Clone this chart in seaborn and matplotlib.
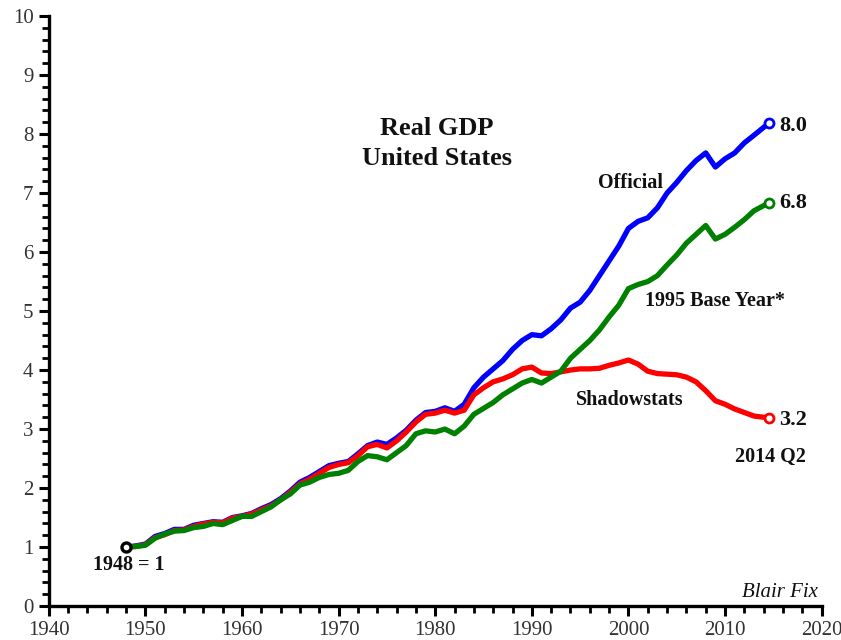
import matplotlib
matplotlib.use("Agg")
import matplotlib.pyplot as plt
import seaborn as sns
import pandas as pd
from matplotlib.ticker import MultipleLocator

years = [1948, 1949, 1950, 1951, 1952, 1953, 1954, 1955, 1956, 1957, 1958, 1959,
         1960, 1961, 1962, 1963, 1964, 1965, 1966, 1967, 1968, 1969, 1970, 1971,
         1972, 1973, 1974, 1975, 1976, 1977, 1978, 1979, 1980, 1981, 1982, 1983,
         1984, 1985, 1986, 1987, 1988, 1989, 1990, 1991, 1992, 1993, 1994, 1995,
         1996, 1997, 1998, 1999, 2000, 2001, 2002, 2003, 2004, 2005, 2006, 2007,
         2008, 2009, 2010, 2011, 2012, 2013, 2014.5]

official = [1.00, 1.02, 1.05, 1.18, 1.23, 1.30, 1.30, 1.37, 1.40, 1.43, 1.42, 1.50,
            1.53, 1.57, 1.65, 1.72, 1.82, 1.95, 2.10, 2.18, 2.28, 2.38, 2.42, 2.45,
            2.58, 2.72, 2.78, 2.74, 2.85, 2.98, 3.15, 3.28, 3.30, 3.36, 3.30, 3.42,
            3.70, 3.88, 4.02, 4.16, 4.35, 4.50, 4.60, 4.58, 4.70, 4.85, 5.05, 5.15,
            5.35, 5.60, 5.85, 6.10, 6.40, 6.52, 6.58, 6.75, 7.00, 7.18, 7.38, 7.55,
            7.68, 7.44, 7.58, 7.68, 7.85, 7.98, 8.18]

shadowstats = [1.00, 1.01, 1.04, 1.16, 1.21, 1.28, 1.29, 1.35, 1.39, 1.42, 1.41, 1.49,
               1.52, 1.56, 1.63, 1.70, 1.80, 1.93, 2.07, 2.15, 2.25, 2.35, 2.40, 2.43,
               2.55, 2.70, 2.74, 2.68, 2.80, 2.95, 3.12, 3.25, 3.27, 3.32, 3.27, 3.32,
               3.58, 3.70, 3.80, 3.85, 3.92, 4.02, 4.05, 3.95, 3.94, 3.97, 4.00, 4.02,
               4.02, 4.03, 4.08, 4.12, 4.17, 4.10, 3.98, 3.94, 3.93, 3.92, 3.88, 3.80,
               3.65, 3.48, 3.42, 3.34, 3.28, 3.22, 3.19]

base1995 = [1.00, 1.01, 1.03, 1.15, 1.22, 1.27, 1.28, 1.33, 1.35, 1.40, 1.38, 1.45,
            1.52, 1.52, 1.60, 1.68, 1.80, 1.90, 2.05, 2.10, 2.18, 2.23, 2.25, 2.30,
            2.45, 2.55, 2.53, 2.48, 2.60, 2.72, 2.92, 2.97, 2.95, 3.00, 2.92, 3.05,
            3.25, 3.35, 3.45, 3.58, 3.68, 3.78, 3.84, 3.78, 3.88, 3.98, 4.20, 4.35,
            4.50, 4.68, 4.90, 5.10, 5.38, 5.45, 5.50, 5.60, 5.78, 5.95, 6.15, 6.30,
            6.45, 6.22, 6.30, 6.42, 6.55, 6.70, 6.83]

series_names = ["Official", "Shadowstats", "1995 Base Year*"]
series_colors = ["#0000ff", "#ff0000", "#008000"]
end_labels = ["8.0", "3.2", "6.8"]

df = pd.DataFrame({
    "year": years * 3,
    "value": official + shadowstats + base1995,
    "series": [series_names[0]] * len(years) + [series_names[1]] * len(years)
              + [series_names[2]] * len(years),
})

sns.set_theme(style="ticks")
plt.rcParams["font.family"] = ["Liberation Serif", "DejaVu Serif"]

fig = plt.figure(figsize=(8.41, 6.4), dpi=100)
ax = fig.add_axes([0.058, 0.053, 0.919, 0.922])

order = ["Official", "Shadowstats", "1995 Base Year*"]
palette = dict(zip(series_names, series_colors))
sns.lineplot(data=df, x="year", y="value", hue="series", hue_order=order,
             palette=palette, linewidth=3.8, legend=False, ax=ax,
             solid_capstyle="round", solid_joinstyle="round")

# end markers
for name, col in zip(series_names, series_colors):
    sub = df[df.series == name]
    ax.plot(sub.year.iloc[-1], sub.value.iloc[-1], marker="o", ms=6.5,
            mfc="white", mec=col, mew=2.0, zorder=5)
ax.plot(years[0], official[0], marker="o", ms=6.5, mfc="white", mec="black",
        mew=2.4, zorder=6)

ax.set_xlim(1940, 2020)
ax.set_ylim(0, 10)
ax.set_xlabel("")
ax.set_ylabel("")
ax.xaxis.set_major_locator(MultipleLocator(10))
ax.xaxis.set_minor_locator(MultipleLocator(2))
ax.yaxis.set_major_locator(MultipleLocator(1))
ax.yaxis.set_minor_locator(MultipleLocator(0.2))
for s in ["top", "right"]:
    ax.spines[s].set_visible(False)
for s in ["left", "bottom"]:
    ax.spines[s].set_linewidth(2.4)
    ax.spines[s].set_color("black")
ax.tick_params(which="major", length=7, width=2.2, color="black",
               labelsize=15, labelcolor="#333333", pad=4)
ax.tick_params(which="minor", length=5, width=2.0, color="black")
ax.grid(False)

bold = dict(fontweight="bold", fontsize=14.5, color="#111111")
endb = dict(fontweight="bold", fontsize=16, color="#111111")
ax.text(1980.2, 7.84, "Real GDP\nUnited States", ha="center", va="center",
        fontweight="bold", fontsize=19, linespacing=1.35, color="#111111")
ax.text(1996.8, 7.17, "Official", ha="left", va="center", **bold)
ax.text(2001.7, 5.17, "1995 Base Year*", ha="left", va="center", **bold)
ax.text(1994.6, 3.49, "Shadowstats", ha="left", va="center", **bold)
ax.text(2015.6, official[-1] - 0.04, end_labels[0], ha="left", va="center", **endb)
ax.text(2015.6, base1995[-1], end_labels[2], ha="left", va="center", **endb)
ax.text(2015.6, shadowstats[-1] - 0.04, end_labels[1], ha="left", va="center", **endb)
ax.text(2011.0, 2.52, "2014 Q2", ha="left", va="center", **bold)
ax.text(1948.3, 0.69, "1948 = 1", ha="center", va="center", **bold)
ax.text(2019.6, 0.23, "Blair Fix", ha="right", va="center", fontstyle="italic",
        fontsize=15, color="#111111")

fig.savefig("out.png", dpi=100)
